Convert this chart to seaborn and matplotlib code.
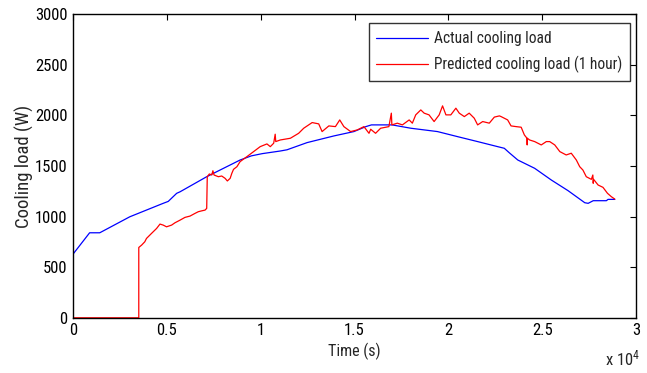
import numpy as np
import pandas as pd
import matplotlib
matplotlib.use("Agg")
import matplotlib.pyplot as plt
import seaborn as sns

# valores (tiempo en s, carga en W)
actual_t = [0, 880, 1420, 3020, 4800, 5070, 5520, 5700, 7120, 8900, 9500, 10080, 11040,
            11400, 12470, 13900, 14965, 15600, 15900, 17000, 18000, 19420, 20490,
            21560, 22630, 22980, 23250, 23700, 24600, 25490, 26380, 27270, 27450,
            27720, 28420, 28510, 28870]
actual_w = [630, 840, 840, 998, 1131, 1150, 1230, 1245, 1394, 1559, 1600, 1622, 1648,
            1660, 1731, 1797, 1840, 1889, 1906, 1906, 1873, 1840, 1790,
            1741, 1691, 1675, 1630, 1559, 1477, 1361, 1256, 1137, 1131,
            1157, 1157, 1170, 1170]

pred_t = [0, 3500, 3500, 3650, 3820, 3910, 4180, 4450, 4630, 4800, 4980, 5250, 5430,
          5700, 5960, 6230, 6500, 6670, 6860, 7030, 7120, 7150, 7260, 7390, 7450,
          7510, 7740, 7920, 8100, 8220, 8370, 8460, 8550, 8730, 8900, 9260, 9620,
          9970, 10330, 10510, 10690, 10770, 10800, 11040, 11580, 12020, 12290,
          12740, 13090, 13270, 13630, 13980, 14210, 14430, 14790, 15140, 15500,
          15770, 15860, 16120, 16390, 16830, 16960, 16990, 17280, 17550, 17910,
          18080, 18260, 18530, 18710, 18970, 19240, 19510, 19690, 19870, 20130,
          20400, 20580, 20850, 21110, 21380, 21560, 21830, 22180, 22450, 22720,
          22810, 23160, 23340, 23610, 23880, 24050, 24190, 24200, 24210, 24330,
          24600, 24950, 25220, 25400, 25670, 25940, 26280, 26550, 26820, 27000,
          27170, 27350, 27620, 27700, 27720, 27740, 27980, 28240, 28480, 28690,
          28870]
pred_w = [0, 0, 695, 718, 751, 784, 834, 883, 926, 916, 899, 916, 939,
          965, 992, 1005, 1032, 1048, 1057, 1064, 1081, 1394, 1421, 1411, 1453,
          1411, 1394, 1401, 1378, 1352, 1378, 1428, 1467, 1493, 1543, 1592, 1642,
          1691, 1718, 1691, 1725, 1814, 1741, 1757, 1774, 1823, 1873,
          1929, 1916, 1840, 1896, 1889, 1955, 1889, 1840, 1856, 1889,
          1823, 1863, 1823, 1873, 1889, 2022, 1906, 1923, 1906, 1955,
          1923, 2005, 2054, 2022, 2005, 1939, 2005, 2094, 2005, 2005,
          2071, 2022, 1988, 2022, 1972, 1906, 1939, 1923, 1983, 1995,
          1988, 1955, 1896, 1889, 1883, 1807, 1774, 1708, 1774, 1757,
          1741, 1708, 1741, 1741, 1708, 1642, 1609, 1626, 1559, 1493,
          1460, 1394, 1368, 1411, 1329, 1368, 1312, 1289, 1230, 1196,
          1173]

x_ticks = [0, 5000, 10000, 15000, 20000, 25000, 30000]
x_tick_labels = ["0", "0.5", "1", "1.5", "2", "2.5", "3"]
y_ticks = [0, 500, 1000, 1500, 2000, 2500, 3000]

sns.set_style("white")
plt.rcParams["font.family"] = ["Roboto Condensed", "Liberation Sans Narrow", "Arial Narrow",
                               "Liberation Sans", "DejaVu Sans"]
plt.rcParams["mathtext.default"] = "regular"

df_a = pd.DataFrame({"t": actual_t, "w": actual_w})
df_p = pd.DataFrame({"t": pred_t, "w": pred_w})

fig = plt.figure(figsize=(6.47, 3.73), dpi=100)
ax = fig.add_axes([0.113, 0.148, 0.870, 0.814])

sns.lineplot(data=df_a, x="t", y="w", color="#0000ff", lw=0.9, estimator=None,
             sort=False, label="Actual cooling load", ax=ax)
sns.lineplot(data=df_p, x="t", y="w", color="#ff0000", lw=0.9, estimator=None,
             sort=False, label="Predicted cooling load (1 hour)", ax=ax)

ax.set_xlim(0, 30000)
ax.set_ylim(0, 3000)
ax.set_xticks(x_ticks)
ax.set_xticklabels(x_tick_labels)
ax.set_yticks(y_ticks)
ax.tick_params(direction="in", length=4, width=0.8, top=True, right=True,
               labelsize=12, colors="black", pad=4)
for s in ax.spines.values():
    s.set_color("black")
    s.set_linewidth(1.0)

ax.set_xlabel("Time (s)", fontsize=11.5, labelpad=3)
ax.set_ylabel("Cooling load (W)", fontsize=13.5, labelpad=1)
ax.text(0.945, -0.1, "x 10$^4$", transform=ax.transAxes, fontsize=12,
        ha="left", va="top")

leg = ax.legend(loc="upper right", bbox_to_anchor=(1.003, 0.995), fontsize=11.2,
                frameon=True, fancybox=False, handlelength=3.3, borderpad=0.5,
                labelspacing=0.6, handletextpad=0.4)
leg.get_frame().set_edgecolor("black")
leg.get_frame().set_linewidth(1.0)

fig.savefig("out.png", dpi=100)
